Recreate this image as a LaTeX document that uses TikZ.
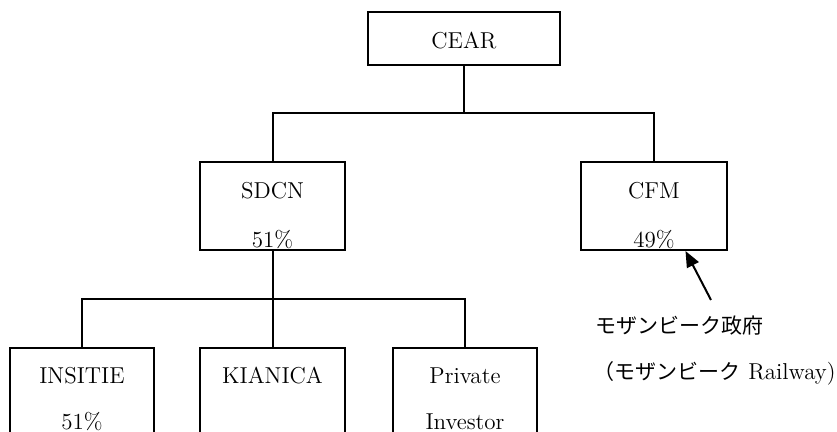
\documentclass[tikz,border=0pt]{standalone}
\usepackage{fontspec}
\newfontfamily\jp{Noto Sans CJK JP}
\usetikzlibrary{arrows.meta}
\begin{document}
\begin{tikzpicture}[x=0.5pt,y=-0.5pt,
  box/.style={draw=black,line width=1pt,rectangle,inner sep=0pt},
  lbl/.style={inner sep=0pt,font=\fontsize{11.5}{13}\selectfont},
  jtext/.style={inner sep=0pt,anchor=west,font=\fontsize{10.5}{12}\selectfont\jp},
  conn/.style={draw=black,line width=1pt},
  arrowline/.style={draw=black,line width=1pt,-{Triangle[length=8pt,width=6.5pt]}}]
\useasboundingbox (0,0) rectangle (837,432);
\clip (0,0) rectangle (837,432);
\fill[white] (0,0) rectangle (837,432);
% boxes
\node[box,minimum width=96pt,minimum height=26.5pt] (cear) at (464,38.5) {};
\node[box,minimum width=72.5pt,minimum height=44pt] (sdcn) at (272.5,206) {};
\node[box,minimum width=73pt,minimum height=44pt] (cfm) at (654,206) {};
\node[box,minimum width=72pt,minimum height=60pt] (ins) at (82,408) {};
\node[box,minimum width=72.5pt,minimum height=60pt] (kia) at (272.5,408) {};
\node[box,minimum width=72pt,minimum height=60pt] (priv) at (465,408) {};
% texts
\node[lbl] (tcear) at (464,40.5) {CEAR};
\node[lbl] (tsdcn) at (272.5,191) {SDCN};
\node[lbl] (psdcn) at (272.5,239.5) {51\%};
\node[lbl] (tcfm) at (654,191) {CFM};
\node[lbl] (pcfm) at (654,239.5) {49\%};
\node[lbl] (tins) at (82,376) {INSITIE};
\node[lbl] (pins) at (82,422) {51\%};
\node[lbl] (tkia) at (272.5,376) {KIANICA};
\node[lbl] (tpriv) at (465,376) {Private};
\node[lbl] (ppriv) at (465,422) {Investor};
\node[jtext] (gov) at (595,326) {モザンビーク政府};
\node[jtext,anchor=east] (rail) at (836,373) {（モザンビーク\fontsize{11.5}{13}\selectfont\rmfamily{} Railway)};
% connectors
\coordinate (j1) at (464,113);
\coordinate (j2) at (272.5,299);
\draw[conn] (cear.south) -- (j1);
\draw[conn] (sdcn.north) |- (j1) -| (cfm.north);
\draw[conn] (sdcn.south) -- (kia.north);
\draw[conn] (ins.north) |- (j2) -| (priv.north);
\coordinate (atail) at (711,300);
\draw[arrowline] (atail) -- (cfm.-55);
\end{tikzpicture}
\end{document}
